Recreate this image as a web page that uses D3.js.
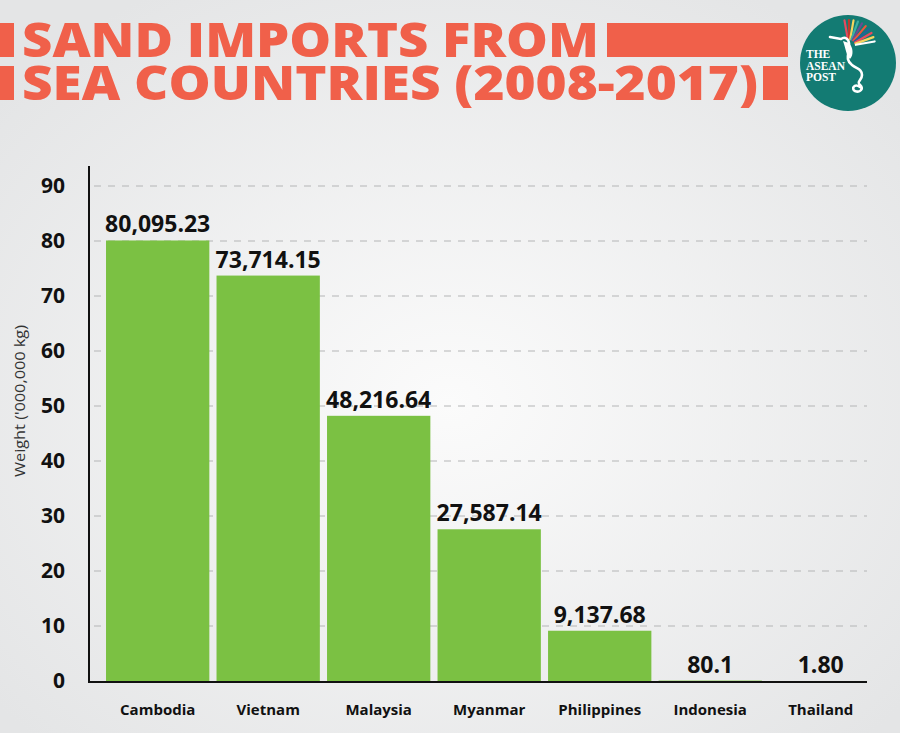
<!DOCTYPE html>
<html>
<head>
<meta charset="utf-8">
<script src="https://cdn.jsdelivr.net/npm/d3@7"></script>
<style>
  html, body { margin: 0; padding: 0; background: #e8e9ea; }
  svg { display: block; }
</style>
</head>
<body>
<svg width="900" height="733"></svg>
<script>
const svg = d3.select('svg');

// data
var countries = ["Cambodia", "Vietnam", "Malaysia", "Myanmar", "Philippines", "Indonesia", "Thailand"];
var weights = [80095.23, 73714.15, 48216.64, 27587.14, 9137.68, 80.1, 1.80];
var valueLabels = ["80,095.23", "73,714.15", "48,216.64", "27,587.14", "9,137.68", "80.1", "1.80"];
var yTicks = [0, 10, 20, 30, 40, 50, 60, 70, 80, 90];

var W = 900, H = 733;
var coral = "#f0604a";
var green = "#7bc143";
var font = "'Open Sans', sans-serif";

// background
var defs = svg.append("defs");
var grad = defs.append("radialGradient")
    .attr("id", "bg")
    .attr("cx", "50%").attr("cy", "55%").attr("r", "65%");
grad.append("stop").attr("offset", "0%").attr("stop-color", "#fbfbfb");
grad.append("stop").attr("offset", "100%").attr("stop-color", "#e4e5e6");
svg.append("rect").attr("width", W).attr("height", H).attr("fill", "url(#bg)");

// title
var title = svg.append("g");
title.append("rect").attr("x", 0).attr("y", 23).attr("width", 14).attr("height", 34).attr("fill", coral);
title.append("rect").attr("x", 0).attr("y", 66).attr("width", 14).attr("height", 34).attr("fill", coral);
title.append("rect").attr("x", 607).attr("y", 23).attr("width", 181).attr("height", 34).attr("fill", coral);
title.append("rect").attr("x", 763).attr("y", 66).attr("width", 25).attr("height", 34).attr("fill", coral);
var titleText = title.append("text")
    .style("font-family", font).style("font-weight", 800).style("font-size", "47px")
    .attr("fill", coral);
titleText.append("tspan")
    .attr("x", 22).attr("y", 57)
    .attr("textLength", 577).attr("lengthAdjust", "spacingAndGlyphs")
    .text("SAND IMPORTS FROM");
titleText.append("tspan")
    .attr("x", 22).attr("y", 100)
    .attr("textLength", 736).attr("lengthAdjust", "spacingAndGlyphs")
    .text("SEA COUNTRIES (2008-2017)");

// logo
var logo = svg.append("g").attr("transform", "translate(848,63)");
logo.append("circle").attr("r", 48).attr("fill", "#137b73");
var feather = ["#e84a5f", "#c0392b", "#f6d55c", "#3caea3", "#6a4c93", "#ed553b", "#20639b", "#e84a5f", "#f6d55c", "#ffffff"];
feather.forEach(function(c, i){
    var a = (-100 + i * 10) * Math.PI / 180;
    logo.append("line")
        .attr("x1", 1 + Math.cos(a) * 7).attr("y1", -17 + Math.sin(a) * 7)
        .attr("x2", 1 + Math.cos(a) * 26).attr("y2", -17 + Math.sin(a) * 26)
        .attr("stroke", c).attr("stroke-width", 2.2).attr("stroke-linecap", "round");
});
// bird
logo.append("path")
    .attr("d", "M-18,-26 L-7,-24 C-3,-27 1,-24 1,-19 C2,-10 -4,-4 4,2 C9,6 14,6 14,12 C14,18 8,18 12,22 C16,26 12,30 7,28 C3,26 6,20 12,24")
    .attr("fill", "none").attr("stroke", "#fff").attr("stroke-width", 2.6)
    .attr("stroke-linecap", "round").attr("stroke-linejoin", "round");
logo.append("path")
    .attr("d", "M-5,-22 C-2,-14 -2,-8 2,-4 C6,-8 5,-16 1,-20 Z")
    .attr("fill", "#fff");
["THE", "ASEAN", "POST"].forEach(function(t, i){
    logo.append("text")
        .attr("x", -42).attr("y", -5 + i * 11.5)
        .style("font-family", "'Liberation Serif', serif").style("font-weight", 700).style("font-size", "11.5px")
        .attr("fill", "#fff")
        .text(t);
});

// scales
var x = d3.scaleBand()
    .domain(countries)
    .range([102.7, 875.7])
    .paddingInner(0.065)
    .paddingOuter(0.03);

var y = d3.scaleLinear()
    .domain([0, 90])
    .range([681, 186]);

// grid lines
svg.append("g").selectAll("line")
    .data(yTicks.filter(function(d){ return d > 0; }))
    .enter()
    .append("line")
    .attr("x1", 94).attr("x2", 867)
    .attr("y1", function(d){ return y(d); })
    .attr("y2", function(d){ return y(d); })
    .attr("stroke", "#b4b5b6").attr("stroke-width", 1)
    .attr("stroke-dasharray", "7,7");

// bars
svg.append("g").selectAll("rect")
    .data(weights)
    .enter()
    .append("rect")
    .attr("x", function(d, i){ return x(countries[i]); })
    .attr("width", x.bandwidth())
    .attr("y", function(d){ return y(d / 1000); })
    .attr("height", function(d){ return y(0) - y(d / 1000); })
    .attr("fill", green);

// value labels
svg.append("g").selectAll("text")
    .data(weights)
    .enter()
    .append("text")
    .attr("x", function(d, i){ return x(countries[i]) + x.bandwidth() / 2; })
    .attr("y", function(d){ return y(d / 1000) - 8; })
    .attr("text-anchor", "middle")
    .style("font-family", font).style("font-weight", 700).style("font-size", "23px")
    .attr("fill", "#111")
    .text(function(d, i){ return valueLabels[i]; });

// y axis
var yAxis = d3.axisLeft(y).tickValues(yTicks).tickSize(0).tickPadding(24);
var gy = svg.append("g").attr("transform", "translate(89,0)").call(yAxis);
gy.select(".domain").remove();
gy.selectAll("text")
    .style("font-family", font).style("font-weight", 700).style("font-size", "21px")
    .attr("fill", "#111");
svg.append("line")
    .attr("x1", 89).attr("x2", 89).attr("y1", 166).attr("y2", 683)
    .attr("stroke", "#111").attr("stroke-width", 2);

// x axis
var xAxis = d3.axisBottom(x).tickSize(0).tickPadding(22);
var gx = svg.append("g").attr("transform", "translate(0,682)").call(xAxis);
gx.select(".domain").remove();
gx.selectAll("text")
    .style("font-family", font).style("font-weight", 700).style("font-size", "15px")
    .attr("fill", "#111");
svg.append("line")
    .attr("x1", 88).attr("x2", 867).attr("y1", 682).attr("y2", 682)
    .attr("stroke", "#111").attr("stroke-width", 2);

// y axis title
svg.append("text")
    .attr("transform", "translate(25,401) rotate(-90)")
    .attr("text-anchor", "middle")
    .attr("textLength", 152).attr("lengthAdjust", "spacingAndGlyphs")
    .style("font-family", font).style("font-weight", 400).style("font-size", "14px")
    .attr("fill", "#333")
    .text("Weight ('000,000 kg)");
</script>
</body>
</html>
